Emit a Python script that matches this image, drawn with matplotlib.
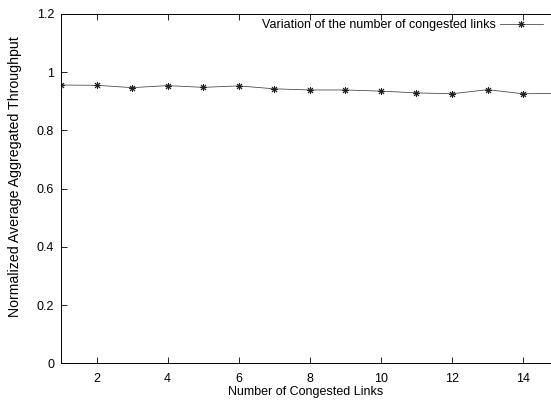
import numpy as np
import matplotlib
matplotlib.use("Agg")
import matplotlib.pyplot as plt

plt.rcParams['font.family'] = ['Liberation Sans', 'DejaVu Sans']

links = [1, 2, 3, 4, 5, 6, 7, 8, 9, 10, 11, 12, 13, 14, 15]
throughput = [0.956, 0.955, 0.947, 0.954, 0.948, 0.953, 0.943, 0.939, 0.939,
              0.935, 0.929, 0.926, 0.940, 0.926, 0.927]
xticks = [2, 4, 6, 8, 10, 12, 14]
yticks = [0, 0.2, 0.4, 0.6, 0.8, 1, 1.2]
ytick_labels = ["0", "0.2", "0.4", "0.6", "0.8", "1", "1.2"]

W, H = 551, 403
left_px, right_px, top_px, bottom_px = 61, 551, 14, 363.3
px_per_unit = 35.55

fig = plt.figure(figsize=(W / 100, H / 100), dpi=100)
ax = fig.add_axes([left_px / W, 1 - bottom_px / H,
                   (right_px - left_px) / W, (bottom_px - top_px) / H])

ax.plot(links, throughput, color="#404040", lw=0.55, marker=(8, 2, 0),
        markersize=5, markeredgewidth=0.7, markeredgecolor="#222222",
        label="Variation of the number of congested links")

ax.set_xlim(1, 1 + (right_px - left_px) / px_per_unit)
ax.set_ylim(0, 1.2)
ax.set_xticks(xticks)
ax.set_yticks(yticks)
ax.set_yticklabels(ytick_labels)
ax.tick_params(direction="in", length=4, width=0.6, labelsize=9, top=True,
               right=False)
ax.tick_params(axis="y", pad=5)
ax.tick_params(axis="x", pad=7)
for s in ax.spines.values():
    s.set_linewidth(0.7)
ax.spines["right"].set_visible(False)

ax.set_xlabel("Number of Congested Links", fontsize=9, labelpad=1)
ax.set_ylabel("Normalized Average Aggregated Throughput", fontsize=10.2)
ax.yaxis.set_label_coords(-0.08, 0.535)

leg = ax.legend(loc="upper right", frameon=False, fontsize=9, markerfirst=False,
                handlelength=3.4, handletextpad=0.3, borderaxespad=0.0,
                bbox_to_anchor=(0.993, 1.0))

fig.savefig("out.png", dpi=100)
